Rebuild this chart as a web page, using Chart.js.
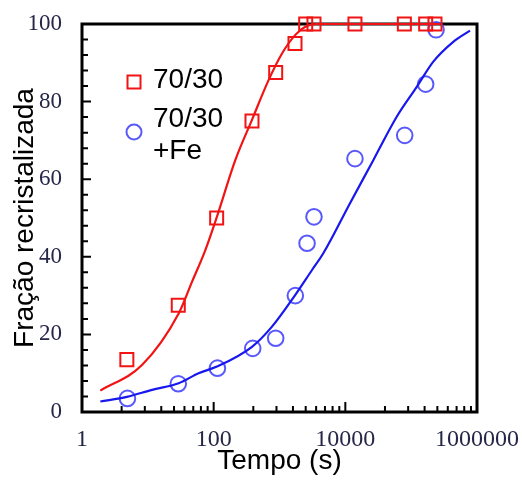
<!DOCTYPE html>
<html>
<head>
<meta charset="utf-8">
<script src="https://cdn.jsdelivr.net/npm/chart.js@4"></script>
<style>
  html, body { margin: 0; padding: 0; background: #fff; }
</style>
</head>
<body>
<canvas id="chart" width="522" height="484"></canvas>
<script>
// pontos medidos: tempo (s) x fracao recristalizada (%)
const tempo7030 = [4.8, 29, 111, 382, 875, 1720, 2500, 3340, 14000, 78800, 166000, 230000];
const frac7030 = [13.5, 27.5, 50, 75, 87.5, 95, 100, 100, 100, 100, 100, 100];
const tempoFe = [4.9, 29, 114, 392, 875, 1740, 2620, 3340, 14000, 79800, 166000, 239000];
const fracFe = [3.5, 7.3, 11.3, 16.4, 19, 30, 43.5, 50.3, 65.3, 71.3, 84.5, 98.5];

// curvas ajustadas
const curvaTempo7030 = [1.9, 8.15, 29.4, 47, 75, 112, 213, 382, 685, 1092, 1740, 2466, 3500, 275000];
const curvaFrac7030 = [5.5, 12.1, 25.4, 33.6, 41.8, 50.3, 64.9, 75.3, 85.6, 92.4, 97.2, 99.3, 100, 100];
const curvaTempoFe = [1.9, 4.8, 11.6, 29.4, 59, 112, 382, 769, 1740, 3120, 4630, 11780, 26600, 60300, 121600, 217000, 436000, 783000];
const curvaFracFe = [2.7, 3.9, 5.7, 7.4, 10, 11.7, 16.8, 22, 30.2, 36.6, 40.9, 53.8, 64.9, 76.1, 83.8, 90.3, 95.4, 98.3];

const nomes = ["70/30", ["70/30", "+Fe"]];
const xMajorTicks = [1, 100, 10000, 1000000];
const yMajorTicks = [0, 20, 40, 60, 80, 100];

const RED = "#f21414";
const BLUE = "#1818ee";
const BLUE_MARK = "rgba(60,60,250,0.85)";
const LABEL_COLOR = "#262648";

function pares(xs, ys) {
  return xs.map(function (x, i) { return { x: x, y: ys[i] }; });
}

// minor ticks of the original: n^2 inside each 100x step
var xTickValues = [];
xMajorTicks.forEach(function (m, k) {
  xTickValues.push(m);
  if (k < xMajorTicks.length - 1) {
    for (var n = 2; n <= 9; n++) xTickValues.push(m * n * n);
  }
});
var yTickValues = [];
for (var v = 0; v <= 100; v += 4) yTickValues.push(v);
if (yTickValues[yTickValues.length - 1] !== 100) yTickValues.push(100);

const frame = {
  id: "frame",
  beforeDatasetsDraw(chart) {
    const { ctx, chartArea: a, scales: { x, y } } = chart;
    ctx.save();
    ctx.strokeStyle = "#000";
    ctx.lineWidth = 2;
    ctx.beginPath();
    x.ticks.forEach(function (t) {
      const px = x.getPixelForValue(t.value);
      const len = xMajorTicks.includes(t.value) ? 10 : 6;
      ctx.moveTo(px, a.bottom);
      ctx.lineTo(px, a.bottom - len);
    });
    y.ticks.forEach(function (t) {
      const py = y.getPixelForValue(t.value);
      const len = yMajorTicks.includes(t.value) ? 9 : 6;
      ctx.moveTo(a.left, py);
      ctx.lineTo(a.left + len, py);
    });
    ctx.stroke();
    ctx.lineWidth = 3;
    ctx.strokeRect(a.left, a.top, a.width, a.height);
    ctx.restore();
  }
};

const legenda = {
  id: "legenda",
  afterDraw(chart) {
    const { ctx, chartArea: a } = chart;
    const mx = a.left + 52;
    const tx = a.left + 71;
    ctx.save();
    ctx.font = "28px 'Liberation Sans', Arial, sans-serif";
    ctx.fillStyle = "#000";
    ctx.textBaseline = "alphabetic";
    // 70/30
    ctx.strokeStyle = RED;
    ctx.lineWidth = 2;
    ctx.strokeRect(mx - 6.5, a.top + 58 - 6.5, 13, 13);
    ctx.fillText(nomes[0], tx, a.top + 64);
    // 70/30 +Fe
    ctx.strokeStyle = BLUE_MARK;
    ctx.beginPath();
    ctx.arc(mx, a.top + 108, 7.5, 0, Math.PI * 2);
    ctx.stroke();
    nomes[1].forEach(function (linha, i) {
      ctx.fillText(linha, tx, a.top + 103 + i * 32);
    });
    ctx.restore();
  }
};

const ctx = document.getElementById("chart").getContext("2d");

new Chart(ctx, {
  type: "scatter",
  data: {
    datasets: [
      {
        label: "curva 70/30",
        data: pares(curvaTempo7030, curvaFrac7030),
        showLine: true,
        borderColor: RED,
        borderWidth: 2.2,
        pointRadius: 0,
        cubicInterpolationMode: "monotone",
        clip: false
      },
      {
        label: "curva 70/30 +Fe",
        data: pares(curvaTempoFe, curvaFracFe),
        showLine: true,
        borderColor: BLUE,
        borderWidth: 2.2,
        pointRadius: 0,
        cubicInterpolationMode: "monotone",
        clip: false
      },
      {
        label: "70/30",
        data: pares(tempo7030, frac7030),
        pointStyle: "rect",
        pointRadius: 9.2,
        borderColor: RED,
        backgroundColor: "rgba(0,0,0,0)",
        borderWidth: 2,
        clip: false
      },
      {
        label: "70/30 +Fe",
        data: pares(tempoFe, fracFe),
        pointStyle: "circle",
        pointRadius: 7.8,
        borderColor: BLUE_MARK,
        backgroundColor: "rgba(0,0,0,0)",
        borderWidth: 2,
        clip: false
      }
    ]
  },
  options: {
    responsive: false,
    animation: false,
    devicePixelRatio: 1,
    layout: { padding: 0 },
    plugins: {
      legend: { display: false },
      tooltip: { enabled: false }
    },
    scales: {
      x: {
        type: "logarithmic",
        min: 1,
        max: 1000000,
        afterBuildTicks: function (scale) {
          scale.ticks = xTickValues.map(function (v) { return { value: v }; });
        },
        afterFit: function (scale) {
          scale.height = 72;
          scale.paddingLeft = 0;
          scale.paddingRight = 45;
        },
        grid: { display: false, drawTicks: false },
        border: { display: false },
        ticks: {
          autoSkip: false,
          maxRotation: 0,
          padding: 13,
          color: LABEL_COLOR,
          font: { family: "'Liberation Serif', 'Times New Roman', serif", size: 24 },
          callback: function (value) {
            return xMajorTicks.includes(value) ? String(value) : "";
          }
        },
        title: {
          display: true,
          text: "Tempo (s)",
          color: "#000",
          font: { family: "'Liberation Sans', Arial, sans-serif", size: 28 },
          padding: { top: 0, bottom: 6 }
        }
      },
      y: {
        type: "linear",
        min: 0,
        max: 100,
        afterBuildTicks: function (scale) {
          scale.ticks = yTickValues.map(function (v) { return { value: v }; });
        },
        afterFit: function (scale) {
          scale.width = 82;
          scale.paddingTop = 24;
          scale.paddingBottom = 0;
        },
        grid: { display: false, drawTicks: false },
        border: { display: false },
        ticks: {
          autoSkip: false,
          padding: 20,
          color: LABEL_COLOR,
          font: { family: "'Liberation Serif', 'Times New Roman', serif", size: 23 },
          callback: function (value) {
            return yMajorTicks.includes(value) ? String(value) : "";
          }
        },
        title: {
          display: true,
          text: "Fração recristalizada",
          color: "#000",
          font: { family: "'Liberation Sans', Arial, sans-serif", size: 28 },
          padding: { top: 8, bottom: 0 }
        }
      }
    }
  },
  plugins: [frame, legenda]
});
</script>
</body>
</html>
